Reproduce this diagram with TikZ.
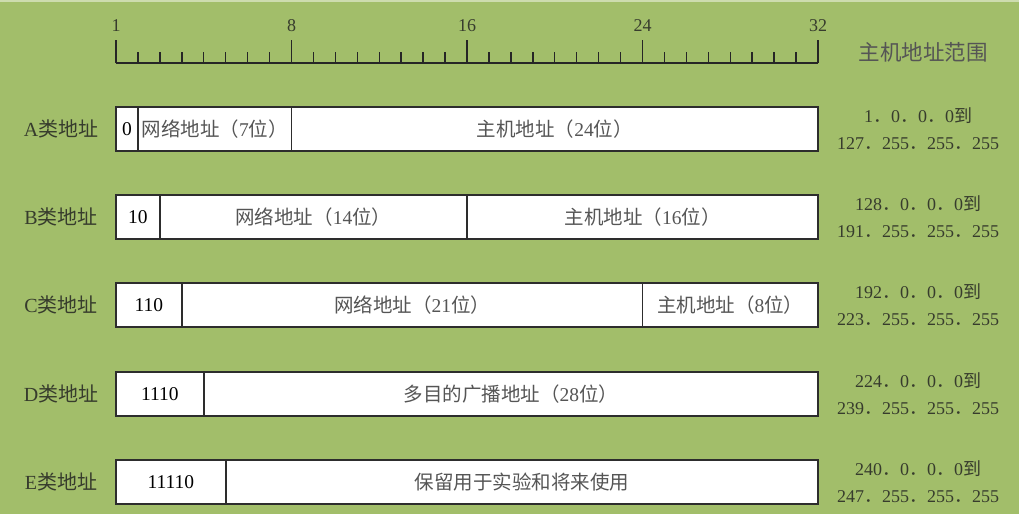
\documentclass[tikz,border=0pt]{standalone}
\usepackage{fontspec}
\setmainfont{Liberation Serif}
\newfontfamily\cjk{Noto Sans CJK SC}
\newcommand\zh[1]{{\cjk #1}}
\definecolor{bg}{RGB}{162,190,106}
\definecolor{bgtop}{RGB}{205,220,175}
\definecolor{boxline}{RGB}{45,45,45}
\definecolor{intext}{RGB}{85,85,85}
\definecolor{lbltext}{RGB}{55,60,45}
\newcommand\fld[6]{\node[field, minimum width={(#4-#3)*21.9375pt}, anchor=west, text=#6] (#1) at ({116+#3*21.9375},#2) {#5};}
\begin{document}
\begin{tikzpicture}[x=1pt,y=-1pt,
  field/.style={draw=boxline, line width=1.8pt, fill=white, minimum height=44pt, inner sep=0pt, outer sep=0pt,
    font=\fontsize{19.5}{22}\selectfont},
  cls/.style={text=lbltext, font=\fontsize{20}{24}\selectfont, inner sep=0pt},
  rng/.style={text=lbltext, align=center, font=\fontsize{18}{27}\selectfont, inner sep=0pt},
  tick/.style={draw=black!85, line width=1.6pt},
  num/.style={text=lbltext, font=\fontsize{18}{20}\selectfont, inner sep=0pt}]
\useasboundingbox (0,0) rectangle (1019,514);
\fill[bg] (0,0) rectangle (1019,514);
\fill[bgtop] (0,0) rectangle (1019,2);
% ruler
\coordinate (r0) at (116,63);
\coordinate (r32) at (818,63);
\draw[tick] (r0) -- (r32);
\foreach \i in {0,...,32}{
  \pgfmathsetmacro\xx{116+\i*21.9375}
  \pgfmathtruncatemacro\mm{mod(\i,8)}
  \ifnum\mm=0
    \draw[tick] (\xx,63) -- (\xx,40);
  \else
    \draw[tick,line width=1.4pt] (\xx,63) -- (\xx,52);
  \fi
}
\node[num] (n1) at (116,26) {1};
\node[num] (n8) at (291.5,26) {8};
\node[num] (n16) at (467,26) {16};
\node[num] (n24) at (642.5,26) {24};
\node[num] (n32) at (818,26) {32};
\node[cls, text=intext, font=\fontsize{21.5}{24}\selectfont] (hdr) at (923,52) {\zh{主机地址范围}};
% class labels
\node[cls] (la) at (61,129) {A\zh{类地址}};
\node[cls] (lb) at (61,217) {B\zh{类地址}};
\node[cls] (lc) at (61,305) {C\zh{类地址}};
\node[cls] (ld) at (61,394) {D\zh{类地址}};
\node[cls] (le) at (61,482) {E\zh{类地址}};
% A
\fld{a1}{129}{0}{1}{0}{black}
\fld{a2}{129}{1}{8}{\zh{网络地址（}7\zh{位）}}{intext}
\fld{a3}{129}{8}{32}{\zh{主机地址（}24\zh{位）}}{intext}
% B
\fld{b1}{217}{0}{2}{10}{black}
\fld{b2}{217}{2}{16}{\zh{网络地址（}14\zh{位）}}{intext}
\fld{b3}{217}{16}{32}{\zh{主机地址（}16\zh{位）}}{intext}
% C
\fld{c1}{305}{0}{3}{110}{black}
\fld{c2}{305}{3}{24}{\zh{网络地址（}21\zh{位）}}{intext}
\fld{c3}{305}{24}{32}{\zh{主机地址（}8\zh{位）}}{intext}
% D
\fld{d1}{394}{0}{4}{1110}{black}
\fld{d2}{394}{4}{32}{\zh{多目的广播地址（}28\zh{位）}}{intext}
% E
\fld{e1}{482}{0}{5}{11110}{black}
\fld{e2}{482}{5}{32}{\zh{保留用于实验和将来使用}}{intext}
% ranges
\node[rng] (ra) at (918,129) {1\zh{．}0\zh{．}0\zh{．}0\zh{到}\\127\zh{．}255\zh{．}255\zh{．}255};
\node[rng] (rb) at (918,217) {128\zh{．}0\zh{．}0\zh{．}0\zh{到}\\191\zh{．}255\zh{．}255\zh{．}255};
\node[rng] (rc) at (918,305) {192\zh{．}0\zh{．}0\zh{．}0\zh{到}\\223\zh{．}255\zh{．}255\zh{．}255};
\node[rng] (rd) at (918,394) {224\zh{．}0\zh{．}0\zh{．}0\zh{到}\\239\zh{．}255\zh{．}255\zh{．}255};
\node[rng] (re) at (918,482) {240\zh{．}0\zh{．}0\zh{．}0\zh{到}\\247\zh{．}255\zh{．}255\zh{．}255};
\end{tikzpicture}
\end{document}
